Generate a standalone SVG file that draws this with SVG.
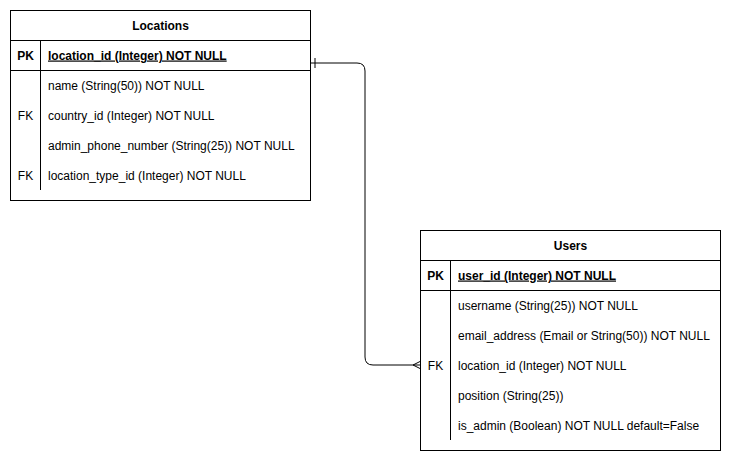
<svg xmlns="http://www.w3.org/2000/svg" width="732" height="462" viewBox="0 0 732 462">
<style>
text{font-family:"Liberation Sans",Arial,Helvetica,sans-serif;font-size:12px;fill:#000}
.b{font-weight:bold}
.u{text-decoration:underline}
.m{text-anchor:middle}
.box{fill:#fff;stroke:#000;stroke-width:1}
.ln{stroke:#000;stroke-width:1;fill:none}
</style>
<rect width="732" height="462" fill="#fff"/>
<g id="edges">
<path class="ln" d="M311,63 H357 Q365,63 365,71 V357 Q365,365 373,365 H421"/>
<path class="ln" d="M315,58 V68"/>
<path class="ln" d="M421,361 L413,365 L421,369"/>
</g>
<g id="locations">
<rect class="box" x="10.5" y="10.5" width="300" height="190"/>
<line class="ln" x1="10.5" y1="40.5" x2="310.5" y2="40.5"/>
<line class="ln" x1="10.5" y1="70.5" x2="310.5" y2="70.5"/>
<line class="ln" x1="40.5" y1="40.5" x2="40.5" y2="190"/>
<text class="b m" x="160.5" y="29.5">Locations</text>
<text class="b m" x="25.5" y="59.5">PK</text>
<text class="b u" x="48" y="59.5">location_id (Integer) NOT NULL</text>
<text x="48" y="89.5">name (String(50)) NOT NULL</text>
<text class="m" x="25.5" y="119.5">FK</text>
<text x="48" y="119.5">country_id (Integer) NOT NULL</text>
<text x="48" y="149.5">admin_phone_number (String(25)) NOT NULL</text>
<text class="m" x="25.5" y="179.5">FK</text>
<text x="48" y="179.5">location_type_id (Integer) NOT NULL</text>
</g>
<g id="users">
<rect class="box" x="420.5" y="230.5" width="300" height="220"/>
<line class="ln" x1="420.5" y1="260.5" x2="720.5" y2="260.5"/>
<line class="ln" x1="420.5" y1="290.5" x2="720.5" y2="290.5"/>
<line class="ln" x1="450.5" y1="260.5" x2="450.5" y2="440"/>
<text class="b m" x="570.5" y="249.5">Users</text>
<text class="b m" x="435.5" y="279.5">PK</text>
<text class="b u" x="458" y="279.5">user_id (Integer) NOT NULL</text>
<text x="458" y="309.5">username (String(25)) NOT NULL</text>
<text x="458" y="339.5">email_address (Email or String(50)) NOT NULL</text>
<text class="m" x="435.5" y="369.5">FK</text>
<text x="458" y="369.5">location_id (Integer) NOT NULL</text>
<text x="458" y="399.5">position (String(25))</text>
<text x="458" y="429.5">is_admin (Boolean) NOT NULL default=False</text>
</g>
</svg>
